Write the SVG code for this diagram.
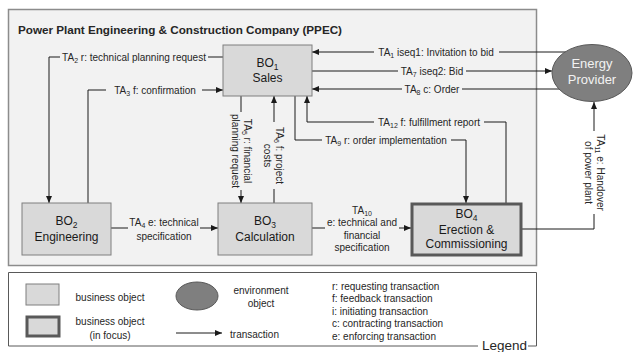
<svg xmlns="http://www.w3.org/2000/svg" width="633" height="352" viewBox="0 0 633 352">
<defs>
<style>
text{font-family:"Liberation Sans",Arial,sans-serif;fill:#262626}
.lbl{font-size:10px;text-anchor:middle}
.lg{font-size:10px}
.bo{font-size:12px;text-anchor:middle;fill:#1a1a1a}
.sub{font-size:7px}
.bsub{font-size:8.5px}
.box{fill:#d9d9d9;stroke:#7f7f7f;stroke-width:1}
.focus{fill:#d9d9d9;stroke:#595959;stroke-width:3}
.env{fill:#7f7f7f;stroke:#595959;stroke-width:1}
.c{fill:none;stroke:#1a1a1a;stroke-width:1}
.ca{fill:none;stroke:#1a1a1a;stroke-width:1;marker-end:url(#ah)}
</style>
<marker id="ah" markerWidth="8" markerHeight="6" refX="7" refY="3" orient="auto" markerUnits="userSpaceOnUse">
<path d="M0,0 L7,3 L0,6 z" fill="#1a1a1a"/>
</marker>
</defs>
<rect width="633" height="352" fill="#ffffff"/>
<g id="container">
<rect x="8.5" y="9.5" width="528" height="256" fill="#f2f2f2" stroke="#8c8c8c" stroke-width="1.5"/>
<text x="18" y="34" font-size="11.7" font-weight="bold" fill="#1a1a1a" textLength="324">Power Plant Engineering &amp; Construction Company (PPEC)</text>
</g>
<g id="connectors">
<!-- TA1 -->
<path class="c" d="M566,52 H499"/>
<path class="ca" d="M374,52 H312"/>
<text class="lbl" x="436" y="55.5">TA<tspan class="sub" dy="2">1</tspan><tspan dy="-2"> iseq1: Invitation to bid</tspan></text>
<!-- TA7 -->
<path class="c" d="M312,71 H398"/>
<path class="ca" d="M466,71 H552"/>
<text class="lbl" x="432" y="74.5">TA<tspan class="sub" dy="2">7</tspan><tspan dy="-2"> iseq2: Bid</tspan></text>
<!-- TA8 -->
<path class="c" d="M566,89 H462"/>
<path class="ca" d="M402,89 H312"/>
<text class="lbl" x="432" y="92.5">TA<tspan class="sub" dy="2">8</tspan><tspan dy="-2"> c: Order</tspan></text>
<!-- TA12 -->
<path class="c" d="M506,203 V122 H484"/>
<path class="ca" d="M374,122 H307 V96"/>
<text class="lbl" x="429" y="125.5">TA<tspan class="sub" dy="2">12</tspan><tspan dy="-2"> f: fulfillment report</tspan></text>
<!-- TA9 -->
<path class="c" d="M295,96 V140 H322"/>
<path class="ca" d="M451,140 H466 V203"/>
<text class="lbl" x="386" y="143.5">TA<tspan class="sub" dy="2">9</tspan><tspan dy="-2"> r: order implementation</tspan></text>
<!-- TA2 -->
<path class="c" d="M223,57 H208"/>
<path class="ca" d="M60,57 H49 V203"/>
<text class="lbl" x="134" y="60.5">TA<tspan class="sub" dy="2">2</tspan><tspan dy="-2"> r: technical planning request</tspan></text>
<!-- TA3 -->
<path class="c" d="M88,203 V90 H106"/>
<path class="ca" d="M202,90 H223"/>
<text class="lbl" x="155" y="93.5">TA<tspan class="sub" dy="2">3</tspan><tspan dy="-2"> f: confirmation</tspan></text>
<!-- TA4 -->
<path class="c" d="M111,228 H128"/>
<path class="ca" d="M200,228 H218"/>
<text class="lbl" x="164" y="225.5">TA<tspan class="sub" dy="2">4</tspan><tspan dy="-2"> e: technical</tspan></text>
<text class="lbl" x="164" y="239.5">specification</text>
<!-- TA10 -->
<path class="c" d="M312,228 H325"/>
<path class="ca" d="M399,228 H411"/>
<text class="lbl" x="362" y="213.5">TA<tspan class="sub" dy="2">10</tspan></text>
<text class="lbl" x="362" y="226">e: technical and</text>
<text class="lbl" x="362" y="238.5">financial</text>
<text class="lbl" x="362" y="251">specification</text>
<!-- TA5 -->
<path class="c" d="M241,96 V112"/>
<path class="ca" d="M241,190 V203"/>
<g transform="translate(241,151) rotate(90)">
<text class="lbl" x="0" y="-2.5">TA<tspan class="sub" dy="2">5</tspan><tspan dy="-2"> r: financial</tspan></text>
<text class="lbl" x="0" y="9.5">planning request</text>
</g>
<!-- TA6 -->
<path class="c" d="M274,203 V189"/>
<path class="ca" d="M274,122 V96"/>
<g transform="translate(273.5,155.5) rotate(90)">
<text class="lbl" x="0" y="-2.5">TA<tspan class="sub" dy="2">6</tspan><tspan dy="-2"> f: project</tspan></text>
<text class="lbl" x="0" y="9.5">costs</text>
</g>
<!-- TA11 -->
<path class="c" d="M522,229 H594 V214"/>
<path class="ca" d="M594,131 V102"/>
<g transform="translate(594,172.5) rotate(90)">
<text class="lbl" x="0" y="-2.5">TA<tspan class="sub" dy="2">11</tspan><tspan dy="-2"> e: Handover</tspan></text>
<text class="lbl" x="0" y="9.5">of power plant</text>
</g>
</g>
<g id="bo1">
<rect class="box" x="223" y="45" width="89" height="51"/>
<text class="bo" x="267.5" y="66.5">BO<tspan class="bsub" dy="3">1</tspan></text>
<text class="bo" x="267.5" y="81.5">Sales</text>
</g>
<g id="bo2">
<rect class="box" x="22" y="203" width="89" height="52"/>
<text class="bo" x="66.5" y="224.5">BO<tspan class="bsub" dy="3">2</tspan></text>
<text class="bo" x="66.5" y="240.5">Engineering</text>
</g>
<g id="bo3">
<rect class="box" x="218" y="203" width="94" height="52"/>
<text class="bo" x="265" y="224.5">BO<tspan class="bsub" dy="3">3</tspan></text>
<text class="bo" x="265" y="240.5">Calculation</text>
</g>
<g id="bo4">
<rect class="focus" x="412" y="204" width="109" height="51"/>
<text class="bo" x="466.5" y="217.5">BO<tspan class="bsub" dy="3">4</tspan></text>
<text class="bo" x="466.5" y="233.5">Erection &amp;</text>
<text class="bo" x="466.5" y="247.5">Commissioning</text>
</g>
<g id="energy-provider">
<ellipse class="env" cx="592" cy="73" rx="40" ry="28.5"/>
<text x="592" y="67.5" font-size="13" text-anchor="middle" style="fill:#f2f2f2">Energy</text>
<text x="592" y="84" font-size="13" text-anchor="middle" style="fill:#f2f2f2">Provider</text>
</g>
<g id="legend">
<path d="M478,346 H8.5 V272.5 H536.5 V346 H528" fill="#ffffff" stroke="#595959" stroke-width="1"/>
<text x="482" y="350" font-size="13.5" fill="#1a1a1a">Legend</text>
<rect class="box" x="26" y="284" width="33" height="21"/>
<text class="lg" x="110" y="300.5" text-anchor="middle">business object</text>
<rect class="focus" x="27" y="317" width="32" height="19"/>
<text class="lg" x="110" y="325" text-anchor="middle">business object</text>
<text class="lg" x="110" y="338.5" text-anchor="middle">(in focus)</text>
<ellipse class="env" cx="197" cy="296" rx="21" ry="14"/>
<text class="lg" x="261" y="293.5" text-anchor="middle">environment</text>
<text class="lg" x="261" y="306.5" text-anchor="middle">object</text>
<path class="ca" d="M176,333 H222"/>
<text class="lg" x="254.5" y="337.5" text-anchor="middle">transaction</text>
<text class="lg" x="332" y="289.5">r: requesting transaction</text>
<text class="lg" x="332" y="302">f: feedback transaction</text>
<text class="lg" x="332" y="314.5">i: initiating transaction</text>
<text class="lg" x="332" y="327">c: contracting transaction</text>
<text class="lg" x="332" y="340">e: enforcing transaction</text>
</g>
</svg>
